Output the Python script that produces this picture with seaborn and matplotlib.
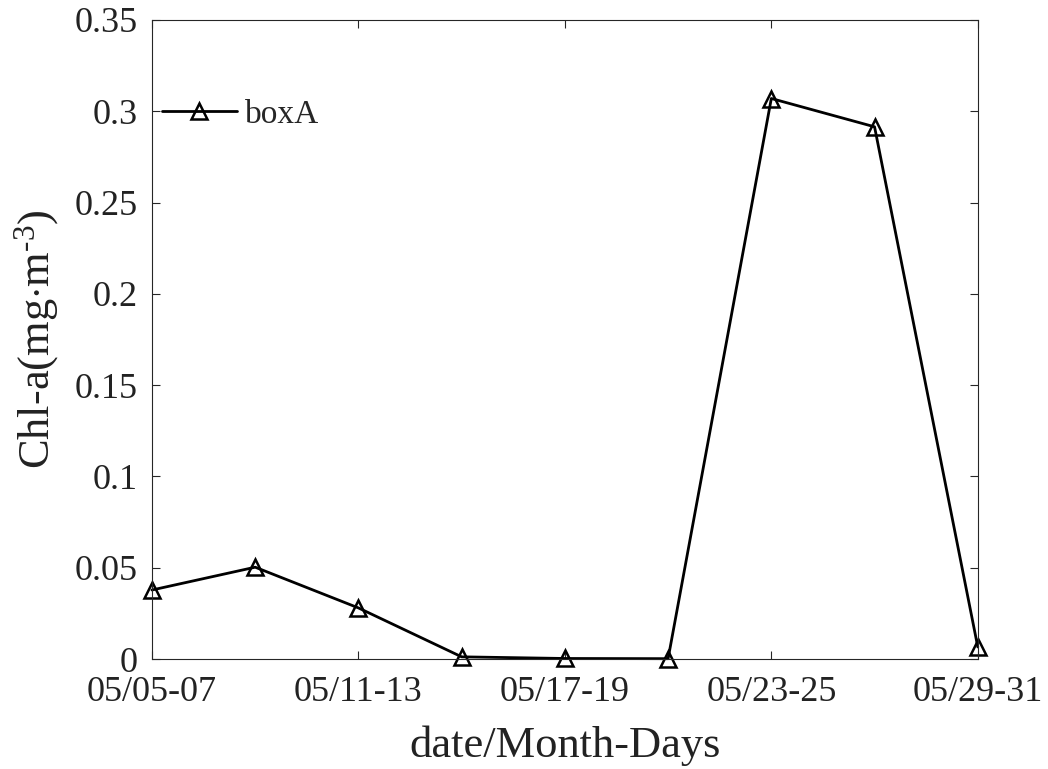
import pandas as pd
import matplotlib
matplotlib.use('Agg')
import matplotlib.pyplot as plt
import seaborn as sns
from matplotlib.ticker import FuncFormatter

# Datos
fechas = ['05/05-07', '05/08-10', '05/11-13', '05/14-16', '05/17-19',
          '05/20-22', '05/23-25', '05/26-28', '05/29-31']
chla_boxA = [0.0378, 0.0503, 0.0280, 0.0012, 0.0003, 0.0002, 0.3070, 0.2915, 0.0066]
etiquetas_x = ['05/05-07', '05/11-13', '05/17-19', '05/23-25', '05/29-31']

df = pd.DataFrame({'idx': range(len(fechas)), 'fecha': fechas, 'boxA': chla_boxA})

sns.set_style('ticks')
plt.rcParams['font.family'] = ['Liberation Serif', 'DejaVu Serif']
plt.rcParams['mathtext.fontset'] = 'custom'
plt.rcParams['mathtext.rm'] = 'Liberation Serif'
plt.rcParams['mathtext.it'] = 'Liberation Serif:italic'

fig = plt.figure(figsize=(10.48, 7.69), dpi=100)
ax = fig.add_axes([0.145, 0.143, 0.788, 0.831])

sns.lineplot(data=df, x='idx', y='boxA', ax=ax, color='black', linewidth=2,
             marker='^', markersize=12, markerfacecolor='none',
             markeredgecolor='black', markeredgewidth=1.8, label='boxA',
             clip_on=False)

ax.set_xlim(0, 8)
ax.set_ylim(0, 0.35)
ax.set_xticks(range(0, len(fechas), 2))
ax.set_xticklabels(etiquetas_x)
ax.set_yticks([0, 0.05, 0.1, 0.15, 0.2, 0.25, 0.3, 0.35])
ax.yaxis.set_major_formatter(FuncFormatter(lambda v, p: '%g' % round(v, 2)))

gris = '#262626'
for s in ax.spines.values():
    s.set_color(gris)
    s.set_linewidth(0.8)
ax.tick_params(direction='in', top=True, right=True, length=6, width=0.8,
               labelsize=26, colors=gris, labelcolor='#222222')
ax.tick_params(axis='x', pad=12)
ax.tick_params(axis='y', pad=10)

ax.set_xlabel('date/Month-Days', fontsize=32, color='#222222', labelpad=12)
ax.set_ylabel(r'Chl-a(mg$\cdot$m$^{\mathrm{\text{-}3}}$)', fontsize=32,
              color='#222222', labelpad=10)

ax.legend(loc='center left', bbox_to_anchor=(0.012, 0.852), frameon=False,
          fontsize=24, handlelength=2.25, handletextpad=0.25,
          borderaxespad=0, borderpad=0)

fig.savefig('out.png', dpi=100)
